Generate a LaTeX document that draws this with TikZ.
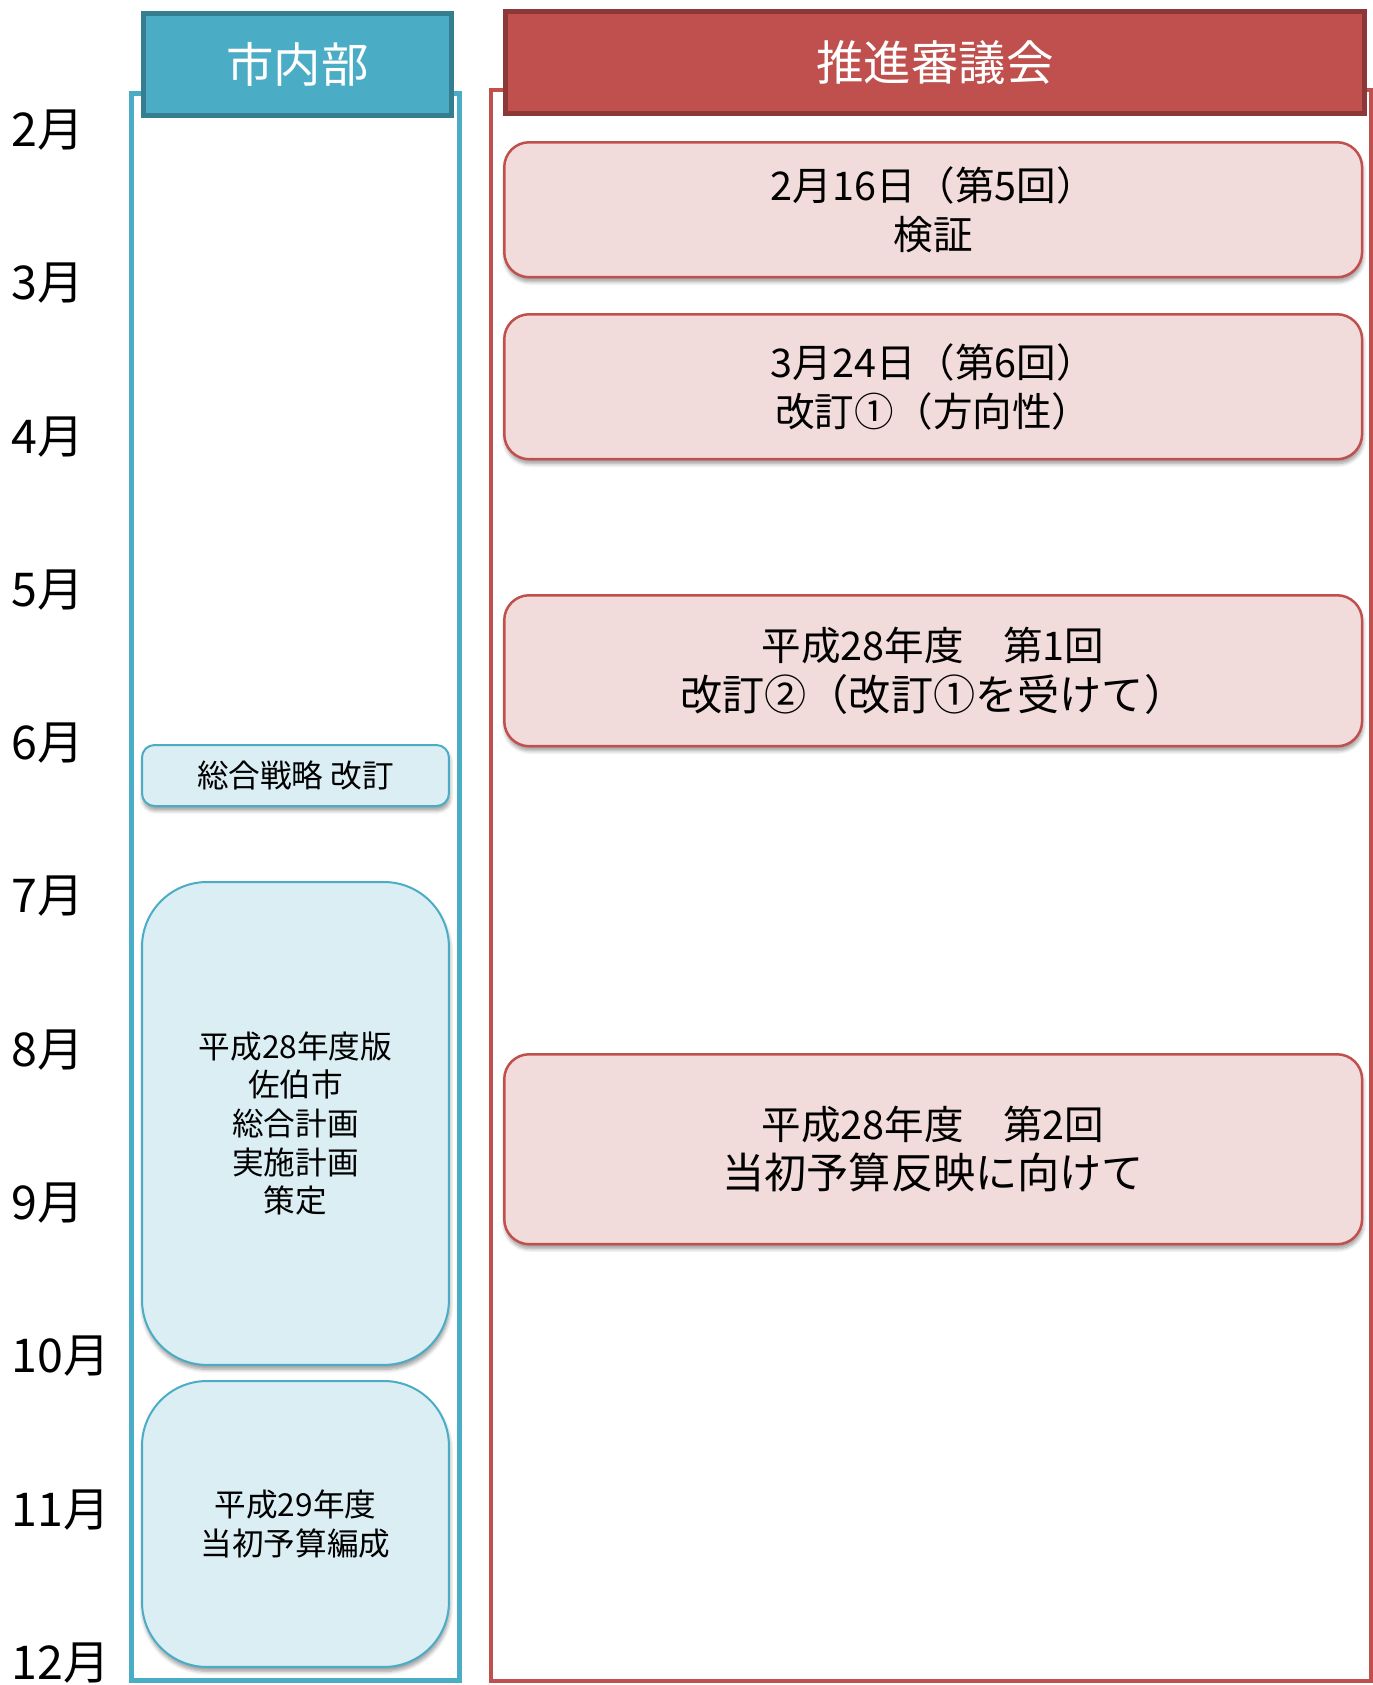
\documentclass[tikz,border=0pt]{standalone}
\usepackage{fontspec}
\setmainfont{Noto Sans CJK JP}
\usepackage{tikz}
\usetikzlibrary{shadows.blur}

\definecolor{aqua}{HTML}{4BACC6}
\definecolor{aquadark}{HTML}{357D91}
\definecolor{aqualight}{HTML}{DAEEF3}
\definecolor{brick}{HTML}{C0504D}
\definecolor{brickdark}{HTML}{8C3836}
\definecolor{rose}{HTML}{F2DCDB}

\begin{document}
\begin{tikzpicture}[x=0.02cm, y=-0.02cm,
    month/.style={anchor=west, inner sep=0pt, font=\fontsize{26.5}{30}\selectfont},
    head/.style={anchor=north west, line width=0.1cm, text=white, inner sep=0pt, minimum height=2.04cm, font=\fontsize{27}{32}\selectfont},
    plan/.style={anchor=north west, draw=brick, line width=0.05cm, fill=rose, align=center, inner sep=0pt, minimum width=17.16cm, rounded corners=0.5cm, font=\fontsize{22.5}{28}\selectfont, blur shadow={shadow xshift=0.5pt, shadow yshift=-2.5pt, shadow blur steps=6}},
    task/.style={anchor=north west, draw=aqua, line width=0.04cm, fill=aqualight, align=center, inner sep=0pt, minimum width=6.14cm, font=\fontsize{18}{22}\selectfont, blur shadow={shadow xshift=0.5pt, shadow yshift=-2.5pt, shadow blur steps=6}}]

    \useasboundingbox (0,0) rectangle (1373,1685);

    % frames of the two columns
    \draw [aqua, line width=0.1cm] (131,93) rectangle (459,1680);
    \draw [brick, line width=0.07cm] (491,90) rectangle (1371,1681);

    \node [head, draw=aquadark, fill=aqua, minimum width=6.16cm] (naibu) at (141,11) {市内部};
    \node [head, draw=brickdark, fill=brick, minimum width=17.18cm] (shingikai) at (503,9) {推進審議会};

    \foreach \m [count=\i from 0] in {2,...,12}
        \node [month] (m\m) at (11,130+153.3*\i) {\m{}月};

    \node [plan, minimum height=2.7cm] (kai5) at (503,141) {2月16日（第5回）\\検証};
    \node [plan, minimum height=2.9cm] (kai6) at (503,313) {3月24日（第6回）\\改訂①（方向性）};
    \node [plan, minimum height=3.02cm] (h28a) at (503,594) {平成28年度　第1回\\{\fontsize{24}{28}\selectfont 改訂②（改訂①を受けて）}};
    \node [plan, minimum height=3.8cm] (h28b) at (503,1053) {平成28年度　第2回\\{\fontsize{24}{28}\selectfont 当初予算反映に向けて}};

    \node [task, minimum height=1.22cm, rounded corners=0.25cm] (senryaku) at (141,744) {総合戦略 改訂};
    \node [task, minimum height=9.66cm, rounded corners=1.3cm] (jisshi) at (141,881) {平成28年度版\\佐伯市\\総合計画\\実施計画\\策定};
    \node [task, minimum height=5.72cm, rounded corners=1.3cm] (yosan) at (141,1380) {平成29年度\\当初予算編成};
\end{tikzpicture}
\end{document}
